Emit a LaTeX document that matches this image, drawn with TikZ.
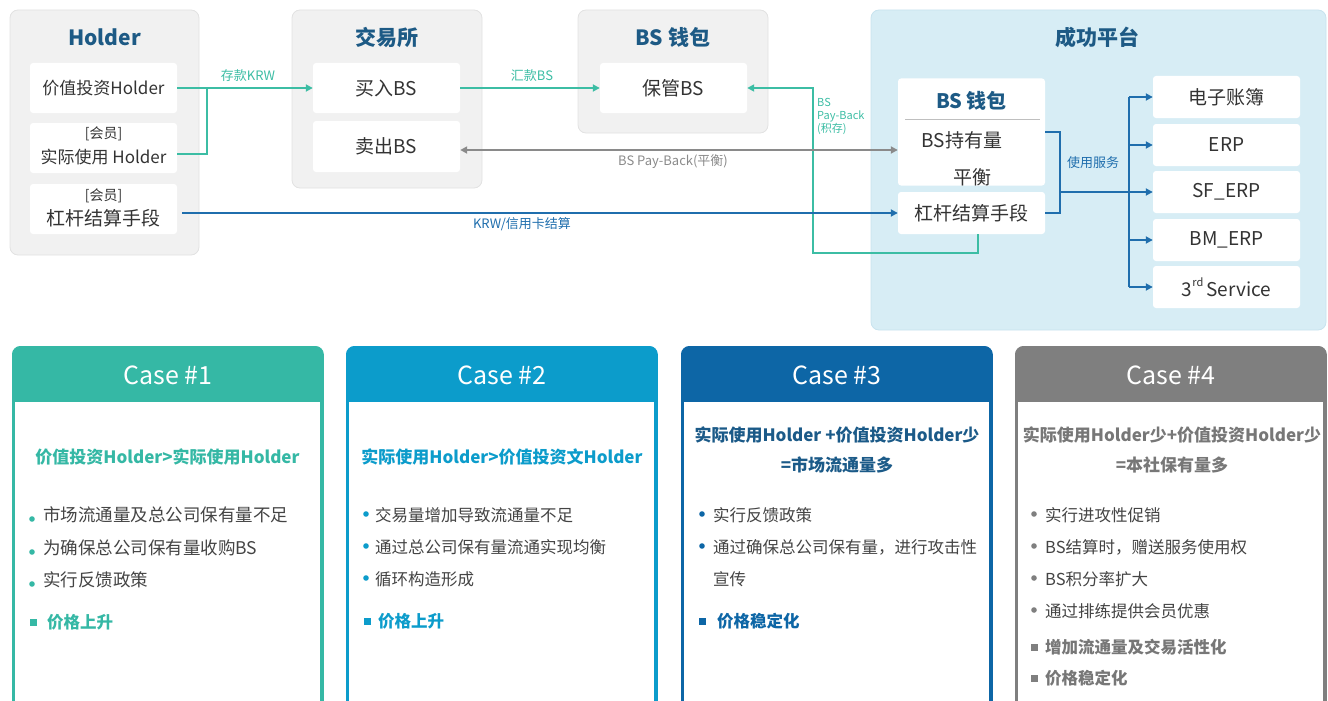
\documentclass[tikz,border=0pt]{standalone}
\usepackage{fontspec}
\setmainfont{Noto Sans CJK SC}
\usetikzlibrary{arrows.meta,calc}

\definecolor{tealc}{HTML}{3CBDA4}
\definecolor{navy}{HTML}{1D5A85}
\definecolor{bluec}{HTML}{1F6EAD}
\definecolor{grayc}{HTML}{8A8A8A}
\definecolor{txt}{HTML}{333333}
\definecolor{bodytxt}{HTML}{444444}
\definecolor{panel}{HTML}{F1F1F1}
\definecolor{panelline}{HTML}{E2E2E2}
\definecolor{sky}{HTML}{D7EDF5}
\definecolor{skyline}{HTML}{C8E3EE}
\definecolor{caseA}{HTML}{35B8A5}
\definecolor{caseB}{HTML}{0C9CCB}
\definecolor{caseC}{HTML}{0D66A6}
\definecolor{caseD}{HTML}{7F7F7F}
\definecolor{headC}{HTML}{1B5A88}
\definecolor{headD}{HTML}{777777}

\newcommand\fsz[1]{\fontsize{#1}{#1}\selectfont}

\tikzset{
  panelbox/.style={draw=panelline, fill=panel, rounded corners=8pt, line width=0.8pt, inner sep=0pt},
  skybox/.style={draw=skyline, fill=sky, rounded corners=8pt, line width=0.8pt, inner sep=0pt},
  cell/.style={fill=white, rounded corners=3pt, inner sep=0pt, minimum width=147pt, minimum height=50pt, text=txt, align=center},
  svc/.style={cell, minimum height=42pt, font=\fsz{19}},
  ptitle/.style={text=navy, inner sep=0pt, font=\bfseries\fsz{21}},
  ctext/.style={text=txt, inner sep=0pt},
  lbl/.style={inner sep=0pt, font=\fsz{13}},
  tip/.style={-{Triangle[length=7pt,width=7pt]}},
  tealline/.style={draw=tealc, line width=1.8pt},
  blueline/.style={draw=bluec, line width=1.8pt},
  grayline/.style={draw=grayc, line width=1.8pt},
  cardframe/.style={draw=#1, fill=#1, line width=0.8pt, rounded corners=8pt, inner sep=0pt,
    minimum width=311pt, minimum height=380pt, anchor=north west},
  cardbody/.style={fill=white, inner sep=0pt, minimum width=305pt, minimum height=330pt, anchor=north},
  casetitle/.style={text=white, inner sep=0pt, font=\fsz{25}},
  casehead/.style={inner sep=0pt, font=\bfseries\fsz{17}, align=center},
  item/.style={text=bodytxt, inner sep=0pt, anchor=west, font=\fsz{16.5}},
  keyitem/.style={inner sep=0pt, anchor=west, font=\bfseries\fsz{16.5}},
}

\begin{document}
\begin{tikzpicture}[x=1pt,y=-1pt]
\useasboundingbox (0,0) rectangle (1328,701);
\clip (0,0) rectangle (1328,701);

% ---------- Holder panel ----------
\node[panelbox, minimum width=189pt, minimum height=245pt] (holder) at (104.5,132.5) {};
\node[ptitle] (holdert) at (104.5,37) {Holder};
\node[cell, font=\fsz{17}] (hv) at (103.5,88) {价值投资Holder};
\node[cell] (hu) at (103.5,148) {};
\node[ctext, font=\fsz{14}] (hum) at (103.5,134) {[会员]};
\node[ctext, font=\fsz{17}] (hut) at (103.5,157) {实际使用 Holder};
\node[cell] (hl) at (103.5,209) {};
\node[ctext, font=\fsz{14}] (hlm) at (103.5,196) {[会员]};
\node[ctext, font=\fsz{19}] (hlt) at (103.5,218) {杠杆结算手段};

% ---------- Exchange panel ----------
\node[panelbox, minimum width=190pt, minimum height=178pt] (exch) at (387,99) {};
\node[ptitle] (excht) at (387,37) {交易所};
\node[cell, font=\fsz{19}] (buy) at (386.5,88) {买入BS};
\node[cell, font=\fsz{19}, minimum height=51pt] (sell) at (386.5,146.5) {卖出BS};

% ---------- Wallet panel ----------
\node[panelbox, minimum width=190pt, minimum height=123pt] (wallet) at (673,71.5) {};
\node[ptitle] (wallett) at (673,37) {BS 钱包};
\node[cell, font=\fsz{19}] (keep) at (673.5,88) {保管BS};

% ---------- Platform panel ----------
\node[skybox, minimum width=455pt, minimum height=320pt] (plat) at (1098.5,170) {};
\node[ptitle] (platt) at (1097,37) {成功平台};
\node[cell, minimum height=107pt] (pw) at (971.5,132) {};
\node[ptitle, font=\bfseries\fsz{20}] (pwt) at (971.5,101) {BS 钱包};
\draw[draw=black!25, line width=1pt] (905,119) -- (1040,119);
\node[ctext, font=\fsz{19}] (pwa) at (962,140) {BS持有量};
\node[ctext, font=\fsz{19}] (pwb) at (972,177) {平衡};
\node[svc] (pl) at (971.5,213) {杠杆结算手段};

\node[svc] (s1) at (1226.5,97) {电子账簿};
\node[svc] (s2) at (1226.5,145) {ERP};
\node[svc] (s3) at (1226.5,192) {SF\_ERP};
\node[svc] (s4) at (1226.5,240) {BM\_ERP};
\node[svc] (s5) at (1226.5,287) {3\raisebox{0.55em}{\fsz{11}rd}\,Service};

% ---------- Connectors ----------
\coordinate (j1) at (207,88);
\coordinate (huout) at ($(hu.east)+(0,6)$);
\draw[tealline, tip] (hv.east) -- (buy.west);
\draw[tealline] (huout) -| (j1);
\node[lbl, text=tealc] (l1) at (248,76) {存款KRW};

\draw[tealline, tip] (buy.east) -- (keep.west);
\node[lbl, text=tealc] (l2) at (532,76) {汇款BS};

\coordinate (plb) at ($(pl.south)+(6.5,0)$);
\coordinate (pb) at (813,253);
\draw[tealline, tip] (plb) |- (pb) |- (keep.east);
\node[inner sep=0pt, text=tealc, font=\fontsize{11}{13}\selectfont, align=left, anchor=north west] (l3) at (817,98)
  {BS\\Pay-Back\\(积存)};

\coordinate (g1) at ($(sell.east)+(0,3.5)$);
\draw[grayline, {Triangle[length=7pt,width=7pt]}-{Triangle[length=7pt,width=7pt]}] (g1) -- (g1 -| pw.west);
\node[lbl, text=grayc] (l4) at (673,162) {BS Pay-Back(平衡)};

\coordinate (hlout) at ($(hl.east)+(5,4)$);
\draw[blueline, tip] (hlout |- pl.west) -- (pl.west);
\node[lbl, text=bluec] (l5) at (522,224) {KRW/信用卡结算};

% service bracket and distribution trunk
\coordinate (br) at (1060,0);
\coordinate (tr) at (1129,0);
\draw[blueline] (pw.east) -| (br |- pl.east) -- (pl.east);
\draw[blueline] (br |- s3.west) -- (tr |- s3.west);
\draw[blueline] (tr |- s1.west) -- (tr |- s5.west);
\foreach \s in {s1,s2,s3,s4,s5}
  \draw[blueline, tip] (tr |- \s.west) -- (\s.west);
\node[lbl, text=bluec] (l6) at (1093,163) {使用服务};

% ---------- Case cards ----------
% Case 1
\node[cardframe=caseA] (c1) at (12,346) {};
\node[cardbody] (c1b) at ($(c1.north)+(0,56)$) {};
\node[casetitle] (c1t) at ($(c1.north)+(0,29)$) {Case \#1};
\node[casehead, text=caseA] (c1h) at (167.5,457) {价值投资Holder>实际使用Holder};
\node[item, font=\fsz{17.5}] (c1a) at (43,515) {市场流通量及总公司保有量不足};
\node[item, font=\fsz{17.5}] (c1c) at (43,548) {为确保总公司保有量收购BS};
\node[item, font=\fsz{17.5}] (c1d) at (43,580) {实行反馈政策};
\node[keyitem, text=caseA] (c1e) at (47,622) {价格上升};
\foreach \yy in {519,552,584} \fill[caseA] (32,\yy) circle (2.8);
\fill[caseA] (29.5,618.5) rectangle (36.5,625.5);

% Case 2
\node[cardframe=caseB] (c2) at (346,346) {};
\node[cardbody] (c2b) at ($(c2.north)+(0,56)$) {};
\node[casetitle] (c2t) at ($(c2.north)+(0,29)$) {Case \#2};
\node[casehead, text=caseB] (c2h) at (502,457) {实际使用Holder>价值投资文Holder};
\node[item] (c2a) at (375,515) {交易量增加导致流通量不足};
\node[item] (c2c) at (375,547) {通过总公司保有量流通实现均衡};
\node[item] (c2d) at (375,579) {循环构造形成};
\node[keyitem, text=caseB] (c2e) at (378,621) {价格上升};
\foreach \yy in {514,546,578} \fill[caseB] (366,\yy) circle (2.8);
\fill[caseB] (363.5,617.5) rectangle (370.5,624.5);

% Case 3
\node[cardframe=caseC] (c3) at (681,346) {};
\node[cardbody] (c3b) at ($(c3.north)+(0,56)$) {};
\node[casetitle] (c3t) at ($(c3.north)+(0,29)$) {Case \#3};
\node[casehead, text=headC] (c3h) at (837,435) {实际使用Holder +价值投资Holder少};
\node[casehead, text=headC] (c3i) at (837,465) {=市场流通量多};
\node[item] (c3a) at (713,515) {实行反馈政策};
\node[item] (c3c) at (713,547) {通过确保总公司保有量，进行攻击性};
\node[item] (c3d) at (713,579) {宣传};
\node[keyitem, text=caseC] (c3e) at (717,621) {价格稳定化};
\foreach \yy in {514,546} \fill[caseC] (702,\yy) circle (2.8);
\fill[caseC] (698.5,617.5) rectangle (705.5,624.5);

% Case 4
\node[cardframe=caseD] (c4) at (1015,346) {};
\node[cardbody] (c4b) at ($(c4.north)+(0,56)$) {};
\node[casetitle] (c4t) at ($(c4.north)+(0,29)$) {Case \#4};
\node[casehead, text=headD] (c4h) at (1172,435) {实际使用Holder少+价值投资Holder少};
\node[casehead, text=headD] (c4i) at (1172,465) {=本社保有量多};
\node[item] (c4a) at (1045,515) {实行进攻性促销};
\node[item] (c4c) at (1045,547) {BS结算时，赠送服务使用权};
\node[item] (c4d) at (1045,579) {BS积分率扩大};
\node[item] (c4e) at (1045,611) {通过排练提供会员优惠};
\node[keyitem, text=headD] (c4f) at (1045,647) {增加流通量及交易活性化};
\node[keyitem, text=headD] (c4g) at (1045,678) {价格稳定化};
\foreach \yy in {514,546,578,610} \fill[caseD] (1034,\yy) circle (2.8);
\fill[caseD] (1030.5,643.5) rectangle (1037.5,650.5);
\fill[caseD] (1030.5,674.5) rectangle (1037.5,681.5);

\end{tikzpicture}
\end{document}
